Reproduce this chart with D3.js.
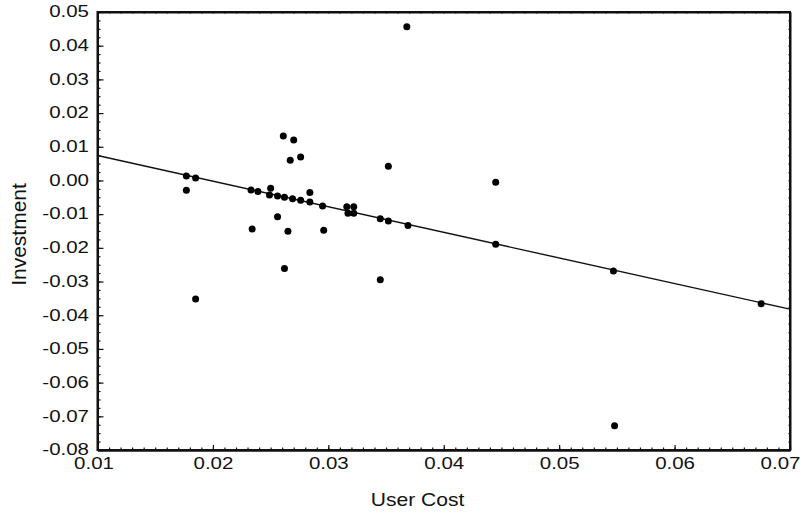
<!DOCTYPE html>
<html>
<head>
<meta charset="utf-8">
<script src="https://d3js.org/d3.v7.min.js"></script>
<style>
  body { margin: 0; background: #fff; }
  text { font-family: "Liberation Sans", Arial, sans-serif; fill: #111; }
</style>
</head>
<body>
<div id="scatter"></div>
<script>
// Data
let userCost = [0.0177, 0.0177, 0.0185, 0.0185, 0.0233, 0.0239, 0.0234, 0.0250, 0.0249,
  0.0256, 0.0256, 0.0262, 0.0262, 0.0261, 0.0265, 0.0267, 0.0269, 0.0270, 0.0276,
  0.0276, 0.0284, 0.0284, 0.0295, 0.0296, 0.0316, 0.0322, 0.0317, 0.0322, 0.0345,
  0.0345, 0.0352, 0.0352, 0.0369, 0.0368, 0.0445, 0.0445, 0.0547, 0.0548, 0.0675];
let investment = [0.0013, -0.0029, 0.0007, -0.0352, -0.0028, -0.0033, -0.0144, -0.0023, -0.0043,
  -0.0046, -0.0108, -0.0050, -0.0261, 0.0132, -0.0151, 0.0060, -0.0054, 0.0120, 0.0070,
  -0.0059, -0.0036, -0.0064, -0.0076, -0.0148, -0.0078, -0.0078, -0.0097, -0.0097, -0.0114,
  -0.0295, 0.0042, -0.0120, -0.0134, 0.0456, -0.0005, -0.0189, -0.0269, -0.0728, -0.0366];

// Fitted line end points
let fitX = [0.01, 0.07];
let fitY = [0.0074, -0.0382];

// Tick labels
let xTicks = [0.01, 0.02, 0.03, 0.04, 0.05, 0.06, 0.07];
let yTicks = [0.05, 0.04, 0.03, 0.02, 0.01, 0.00, -0.01, -0.02, -0.03, -0.04, -0.05, -0.06, -0.07, -0.08];

//Size for SVG and margin
let svgWidth = 805;
let svgHeight = 515;
var margin = { top: 12, right: 15, bottom: 65, left: 97.5 };
let width = svgWidth - margin.left - margin.right;
let height = svgHeight - margin.top - margin.bottom;
let stretch = 1.28;

let svg = d3.select("#scatter")
  .append("svg")
  .attr("width", svgWidth)
  .attr("height", svgHeight);

var chartGroup = svg.append("g")
  .attr("transform", `translate(${margin.left}, ${margin.top})`);

// Scales
var xScale = d3.scaleLinear().domain([0.01, 0.07]).range([0, width]);
var yScale = d3.scaleLinear().domain([-0.08, 0.05]).range([height, 0]);

// Minor ticks (inward)
var xMinor = d3.range(10, 71).map(d => d / 1000);
var yMinor = d3.range(-32, 21).map(d => d / 400);

chartGroup.append("g")
  .attr("transform", `translate(0, ${height})`)
  .call(d3.axisBottom(xScale).tickValues(xMinor).tickSizeInner(-2.5).tickSizeOuter(0).tickFormat(""));
chartGroup.append("g")
  .call(d3.axisLeft(yScale).tickValues(yMinor).tickSizeInner(-3).tickSizeOuter(0).tickFormat(""));
chartGroup.append("g")
  .call(d3.axisTop(xScale).tickValues(xMinor).tickSizeInner(-1.5).tickSizeOuter(0).tickFormat(""));
chartGroup.append("g")
  .attr("transform", `translate(${width}, 0)`)
  .call(d3.axisRight(yScale).tickValues(yMinor).tickSizeInner(-1.5).tickSizeOuter(0).tickFormat(""));

// Major axes
var bottomAxis = d3.axisBottom(xScale)
  .tickValues(xTicks)
  .tickSizeInner(-5)
  .tickSizeOuter(0)
  .tickPadding(8)
  .tickFormat(d => d.toFixed(2));
var leftAxis = d3.axisLeft(yScale)
  .tickValues(yTicks)
  .tickSizeInner(-6)
  .tickSizeOuter(0)
  .tickFormat(d => d.toFixed(2));

var xAxisG = chartGroup.append("g")
  .attr("transform", `translate(0, ${height})`)
  .call(bottomAxis);
var yAxisG = chartGroup.append("g")
  .call(leftAxis);

xAxisG.selectAll("text")
  .attr("font-size", 16)
  .attr("font-family", "Liberation Sans, Arial, sans-serif")
  .attr("transform", `scale(${stretch},1)`)
  .attr("x", (d, i) => i == 0 ? -4 / stretch : (i == xTicks.length - 1 ? -10 / stretch : 0));
yAxisG.selectAll("text")
  .attr("font-size", 16)
  .attr("font-family", "Liberation Sans, Arial, sans-serif")
  .attr("transform", `scale(${stretch},1)`)
  .attr("x", -8.5 / stretch)
  .attr("dy", "0.3em");

// Frame
chartGroup.append("rect")
  .attr("width", width)
  .attr("height", height)
  .attr("fill", "none")
  .attr("stroke", "#111")
  .attr("stroke-width", 2);
svg.selectAll(".domain").attr("stroke", "#111").attr("stroke-width", 2);
svg.selectAll(".tick line").attr("stroke", "#111").attr("stroke-width", 1.2);

// Fitted line
chartGroup.append("line")
  .attr("x1", xScale(fitX[0]))
  .attr("y1", yScale(fitY[0]))
  .attr("x2", xScale(fitX[1]))
  .attr("y2", yScale(fitY[1]))
  .attr("stroke", "#111")
  .attr("stroke-width", 1.4);

// Points
chartGroup.selectAll("circle")
  .data(userCost)
  .enter()
  .append("circle")
  .attr("cx", d => xScale(d))
  .attr("cy", (d, i) => yScale(investment[i]))
  .attr("r", 3.5)
  .attr("fill", "#000");

// Axis labels
chartGroup.append("text")
  .attr("transform", `translate(${25.7 - margin.left}, ${234.5 - margin.top}) rotate(-90)`)
  .attr("text-anchor", "middle")
  .attr("font-size", 21)
  .text("Investment");

chartGroup.append("text")
  .attr("transform", `translate(${417.6 - margin.left}, ${height + 56}) scale(1.17,1)`)
  .attr("text-anchor", "middle")
  .attr("font-size", 18)
  .text("User Cost");
</script>
</body>
</html>
